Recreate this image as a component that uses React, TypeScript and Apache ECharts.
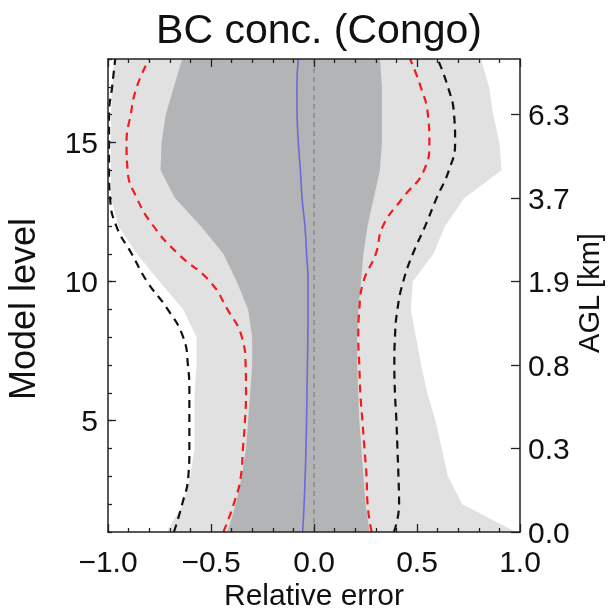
import React, { useEffect, useRef } from "react";
import * as echarts from "echarts";

const FONT = "'Liberation Sans', Arial, Helvetica, sans-serif";
const TITLE = "BC conc. (Congo)";
const X_NAME = "Relative error";
const Y_NAME = "Model level";
const Y2_NAME = "AGL [km]";

// model levels (y)
const levels = [1, 2, 3, 4, 5, 6, 7, 8, 9, 10, 11, 12, 13, 14, 15, 16, 17, 18];

// outer (light grey) band
const lightLeft = [-0.715, -0.635, -0.6, -0.58, -0.58, -0.58, -0.57, -0.57, -0.635, -0.75, -0.86, -0.95, -0.985, -0.985, -0.985, -0.985, -0.98, -0.97];
const lightRight = [0.98, 0.72, 0.65, 0.62, 0.59, 0.55, 0.52, 0.495, 0.47, 0.48, 0.58, 0.636, 0.73, 0.91, 0.9, 0.87, 0.85, 0.81];

// inner (dark grey) band
const darkLeft = [-0.42, -0.38, -0.35, -0.33, -0.32, -0.31, -0.3, -0.3, -0.32, -0.375, -0.44, -0.55, -0.675, -0.745, -0.74, -0.72, -0.68, -0.64];
const darkRight = [0.27, 0.25, 0.24, 0.23, 0.22, 0.215, 0.21, 0.21, 0.215, 0.228, 0.24, 0.26, 0.29, 0.32, 0.33, 0.33, 0.33, 0.32];

// red dashed
const redLeft = [-0.44, -0.39, -0.355, -0.345, -0.335, -0.33, -0.332, -0.35, -0.42, -0.505, -0.66, -0.78, -0.86, -0.905, -0.91, -0.89, -0.86, -0.8];
const redRight = [0.28, 0.26, 0.255, 0.245, 0.235, 0.225, 0.22, 0.215, 0.22, 0.24, 0.3, 0.335, 0.43, 0.534, 0.56, 0.553, 0.518, 0.466];

// black dashed
const blackLeft = [-0.68, -0.64, -0.61, -0.605, -0.605, -0.605, -0.612, -0.635, -0.71, -0.81, -0.885, -0.96, -0.99, -0.995, -0.995, -0.995, -0.98, -0.965];
const blackRight = [0.388, 0.413, 0.41, 0.405, 0.4, 0.393, 0.39, 0.393, 0.405, 0.433, 0.48, 0.54, 0.595, 0.655, 0.685, 0.68, 0.65, 0.6];

// blue (median)
const blueLine = [-0.055, -0.048, -0.043, -0.039, -0.036, -0.034, -0.032, -0.03, -0.029, -0.029, -0.036, -0.044, -0.058, -0.066, -0.076, -0.082, -0.083, -0.076];

// zero reference
const zeroLine = [[0, 1], [0, 18]];

// ticks / labels
const xTicks = [-1, -0.5, 0, 0.5, 1];
const xTickLabels = ["\u22121.0", "\u22120.5", "0.0", "0.5", "1.0"];
const yTicks = [5, 10, 15];
const aglLevels = [1, 4, 7, 10, 13, 16];
const aglLabels = ["0.0", "0.3", "0.8", "1.9", "3.7", "6.3"];

const LIGHT = "#e1e1e1";
const DARK = "#b3b4b5";
const AXIS = "#222";
const TEXT = "#111";

function band(api: any, left: number[], right: number[], fill: string) {
  const pts: number[][] = [];
  levels.forEach((l, i) => pts.push(api.coord([left[i], l])));
  for (let i = levels.length - 1; i >= 0; i--) pts.push(api.coord([right[i], levels[i]]));
  return { type: "polygon", shape: { points: pts }, style: { fill, stroke: null } };
}

function lineSeries(name: string, xs: number[], color: string, type: any, width: number, z: number) {
  return {
    name,
    type: "line",
    xAxisIndex: 0,
    yAxisIndex: 0,
    data: levels.map((l, i) => [xs[i], l]),
    showSymbol: false,
    symbol: "none",
    smooth: 0.5,
    silent: true,
    z,
    lineStyle: { color, type, width },
  };
}

export default function App() {
  const ref = useRef<HTMLDivElement>(null);
  useEffect(() => {
    if (!ref.current) return;
    const chart = echarts.init(ref.current, null, { renderer: "svg" });
    const tickStyle = { color: AXIS, width: 1.3 };
    const xBase = {
      type: "value",
      min: -1,
      max: 1,
      interval: 0.5,
      z: 10,
      axisLine: { show: true, onZero: false, lineStyle: { color: AXIS, width: 1.5 } },
      axisTick: { show: true, inside: true, length: 8, lineStyle: tickStyle },
      minorTick: { show: true, splitNumber: 5, length: 4, lineStyle: tickStyle },
      splitLine: { show: false },
      minorSplitLine: { show: false },
    };
    chart.setOption({
      animation: false,
      textStyle: { fontFamily: FONT },
      title: {
        text: TITLE,
        left: 314,
        top: 3,
        textAlign: "center",
        textStyle: { fontSize: 41, fontWeight: "normal", color: TEXT, fontFamily: FONT },
      },
      grid: { left: 108, right: 92, top: 59, bottom: 79, containLabel: false, outerBoundsMode: "none" },
      xAxis: [
        {
          ...xBase,
          position: "bottom",
          axisLabel: {
            margin: 14,
            fontSize: 30,
            color: TEXT,
            fontFamily: FONT,
            formatter: (v: number) => {
              const i = xTicks.findIndex((t) => Math.abs(t - v) < 1e-9);
              return i >= 0 ? xTickLabels[i] : "";
            },
          },
        },
        { ...xBase, position: "top", axisLabel: { show: false } },
      ],
      yAxis: [
        {
          type: "value",
          min: 1,
          max: 18,
          position: "left",
          z: 10,
          axisLine: { show: true, onZero: false, lineStyle: { color: AXIS, width: 1.5 } },
          axisTick: { show: true, inside: true, length: 8, customValues: yTicks, lineStyle: tickStyle },
          axisLabel: { customValues: yTicks, margin: 10, fontSize: 30, color: TEXT, fontFamily: FONT },
          splitLine: { show: false },
        },
        {
          type: "value",
          min: 1,
          max: 18,
          position: "right",
          z: 10,
          axisLine: { show: true, onZero: false, lineStyle: { color: AXIS, width: 1.5 } },
          axisTick: { show: true, inside: true, length: 9, customValues: aglLevels, lineStyle: tickStyle },
          axisLabel: {
            customValues: aglLevels,
            margin: 8,
            fontSize: 30,
            color: TEXT,
            fontFamily: FONT,
            formatter: (v: number) => {
              const i = aglLevels.indexOf(Math.round(v));
              return i >= 0 ? aglLabels[i] : "";
            },
          },
          splitLine: { show: false },
        },
        {
          type: "value",
          min: 1,
          max: 18,
          interval: 1,
          position: "left",
          z: 10,
          axisLine: { show: false, onZero: false },
          axisTick: { show: true, inside: true, length: 4, lineStyle: tickStyle },
          axisLabel: { show: false },
          splitLine: { show: false },
        },
      ],
      graphic: [
        {
          type: "text",
          x: 314,
          y: 594,
          style: { text: X_NAME, fontSize: 30, fontFamily: FONT, fill: TEXT, align: "center", verticalAlign: "middle" },
        },
        {
          type: "text",
          x: 22,
          y: 309,
          rotation: Math.PI / 2,
          style: { text: Y_NAME, fontSize: 36, fontFamily: FONT, fill: TEXT, align: "center", verticalAlign: "middle" },
        },
        {
          type: "text",
          x: 589,
          y: 293,
          rotation: Math.PI / 2,
          style: { text: Y2_NAME, fontSize: 29, fontFamily: FONT, fill: TEXT, align: "center", verticalAlign: "middle" },
        },
      ],
      series: [
        {
          type: "custom",
          xAxisIndex: 0,
          yAxisIndex: 0,
          silent: true,
          z: 1,
          data: [[0, 1]],
          renderItem: (_p: any, api: any) => band(api, lightLeft, lightRight, LIGHT),
        },
        {
          type: "custom",
          xAxisIndex: 0,
          yAxisIndex: 0,
          silent: true,
          z: 2,
          data: [[0, 1]],
          renderItem: (_p: any, api: any) => band(api, darkLeft, darkRight, DARK),
        },
        {
          type: "line",
          xAxisIndex: 0,
          yAxisIndex: 0,
          data: zeroLine,
          symbol: "none",
          silent: true,
          z: 3,
          lineStyle: { color: "#808080", type: [5, 4], width: 1.2 },
        },
        lineSeries("black-left", blackLeft, "#111", [8, 6], 2.2, 4),
        lineSeries("black-right", blackRight, "#111", [8, 6], 2.2, 4),
        lineSeries("red-left", redLeft, "#f21c1c", [8, 6], 2.2, 4),
        lineSeries("red-right", redRight, "#f21c1c", [8, 6], 2.2, 4),
        lineSeries("blue", blueLine, "#6a6ad8", "solid", 1.6, 5),
      ],
    });
    return () => chart.dispose();
  }, []);
  return <div ref={ref} style={{ position: "fixed", left: 0, top: 0, width: 612, height: 611 }} />;
}
